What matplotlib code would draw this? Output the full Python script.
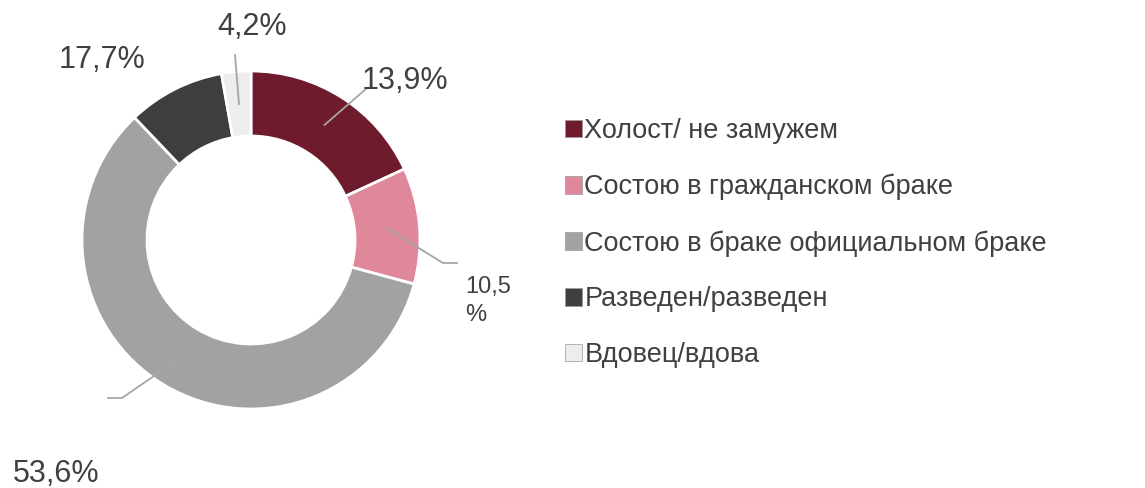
import numpy as np
import matplotlib
matplotlib.use("Agg")
import matplotlib.pyplot as plt
from matplotlib.patches import Patch

plt.rcParams['font.family'] = ['Liberation Sans', 'DejaVu Sans']

# данные
categories = ["Холост/ не замужем", "Состою в гражданском браке",
              "Состою в браке официальном браке", "Разведен/разведен",
              "Вдовец/вдова"]
shares = [18.1, 11.1, 58.7, 9.3, 2.8]          # доли, как нарисованы в кольце
pct_labels = ["13,9%", "10,5\n%", "53,6%", "17,7%", "4,2%"]
colors = ["#6e1b2d", "#e0889b", "#a2a2a2", "#3e3e3e", "#ededed"]

W, H = 1145, 488
fig = plt.figure(figsize=(W / 100, H / 100), dpi=100)
ax = fig.add_axes([0, 0, 1, 1])

R = 169
ring = 65
cx, cy = 251, H - 240

wedges, _ = ax.pie(shares, colors=colors, startangle=90, counterclock=False,
                   radius=R, center=(cx, cy),
                   wedgeprops=dict(width=ring, edgecolor="white", linewidth=2))
ax.set_xlim(0, W)
ax.set_ylim(0, H)
ax.set_aspect("equal")
ax.axis("off")

txt_color = "#404040"
line_color = "#a6a6a6"

# подписи: (центр x, центр y в пикселях сверху, размер)
label_pos = [(405, 81, 22), (488, 301, 17), (56, 474, 22), (102, 60, 22), (252, 27, 22)]
# ломаные выноски (точки после якоря на кольце), None - без выноски
leaders = [[(367, 88)], [(443, 263), (457, 263)], [(122, 398), (108, 398)], None, [(235, 55)]]

for w, lab, (tx, ty, fs), lead in zip(wedges, pct_labels, label_pos, leaders):
    if lead is not None:
        mid = np.deg2rad((w.theta1 + w.theta2) / 2)
        r = R - ring / 2
        xs = [cx + r * np.cos(mid)] + [p[0] for p in lead]
        ys = [cy + r * np.sin(mid)] + [H - p[1] for p in lead]
        ax.plot(xs, ys, color=line_color, lw=1.3, zorder=3)
    ha = "left" if "\n" in lab else "center"
    ax.text(tx if ha == "center" else 465, H - ty, lab, fontsize=fs, color=txt_color,
            ha=ha, va="center", linespacing=1.4, zorder=4)

handles = [Patch(facecolor=c, edgecolor="#9a9a9a", linewidth=0.5) for c in colors]
fig.legend(handles, categories, loc="upper left",
           bbox_to_anchor=(565 / W, 1 - 118 / H), frameon=False,
           fontsize=19.5, labelcolor=txt_color,
           handlelength=0.62, handleheight=0.62, handletextpad=0.1,
           labelspacing=1.1, borderaxespad=0, borderpad=0)

fig.savefig("out.png", dpi=100)
